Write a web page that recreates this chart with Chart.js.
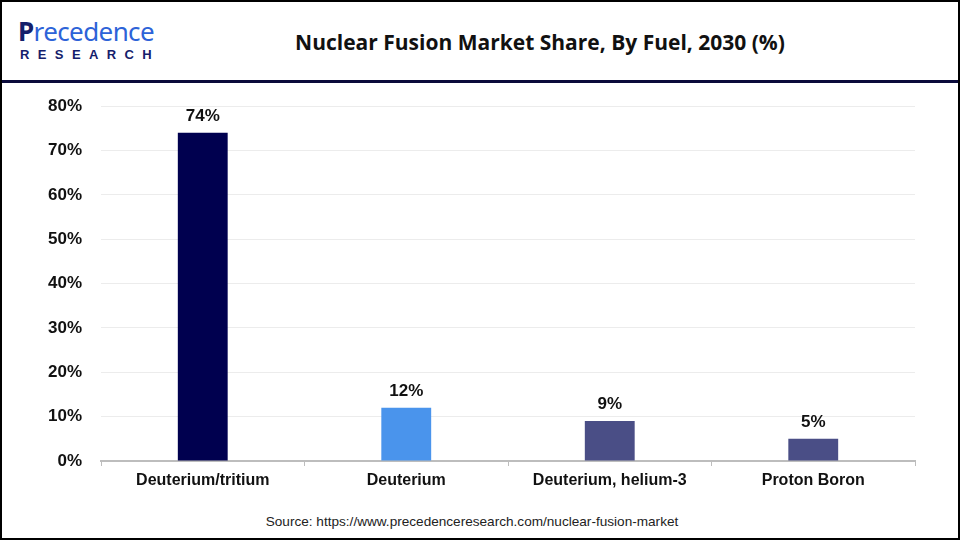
<!DOCTYPE html>
<html>
<head>
<meta charset="utf-8">
<script src="https://cdn.jsdelivr.net/npm/chart.js@4"></script>
<style>
  html, body { margin: 0; padding: 0; background: #fff; }
  #frame {
    position: relative; width: 956px; height: 536px;
    border: 2px solid #000; background: #fff; overflow: hidden;
    font-family: "Liberation Sans", Arial, sans-serif;
  }
  #header { position: absolute; left: 0; top: 0; width: 956px; height: 78px; border-bottom: 3px solid #0b0b3b; }
  #logo1 { position: absolute; left: 16px; top: 11px; font-family: "Noto Sans", sans-serif; font-size: 26px; letter-spacing: -0.6px; color: #2d63d8; }
  #logo1 b { color: #14206b; font-weight: 700; }
  #logo2 { position: absolute; left: 18px; top: 45px; font-size: 13px; font-weight: bold; letter-spacing: 8.4px; color: #14206b; }
  #title { position: absolute; left: 120px; width: 836px; top: 26px; text-align: center; font-family: "Open Sans", sans-serif; font-weight: 700; font-size: 21px; color: #111; }
  #wrap { position: absolute; left: -2px; top: 75px; width: 930px; height: 424px; }
  #source { position: absolute; left: 0; width: 940px; top: 512px; text-align: center; font-size: 13.6px; color: #222; }
</style>
</head>
<body>
<div id="frame">
  <div id="header">
    <div id="logo1"><b>P</b>recedence</div>
    <div id="logo2">RESEARCH</div>
    <div id="title">Nuclear Fusion Market Share, By Fuel, 2030 (%)</div>
  </div>
  <div id="wrap"><canvas id="chart"></canvas></div>
  <div id="source">Source: https://www.precedenceresearch.com/nuclear-fusion-market</div>
</div>
<script>
// chart data
const categories = ["Deuterium/tritium", "Deuterium", "Deuterium, helium-3", "Proton Boron"];
const shares = [74, 12, 9, 5];
const barColors = ["#00004f", "#4a94ec", "#4a4e86", "#4a4e86"];
const yTicks = [0, 10, 20, 30, 40, 50, 60, 70, 80];

// value labels above bars
const valueLabels = {
  id: "valueLabels",
  afterDatasetsDraw(chart) {
    const ctx = chart.ctx;
    const meta = chart.getDatasetMeta(0);
    ctx.save();
    ctx.font = "bold 17px 'Liberation Sans', Arial, sans-serif";
    ctx.fillStyle = "#111";
    ctx.textAlign = "center";
    ctx.textBaseline = "bottom";
    meta.data.forEach(function(bar, i){
      ctx.fillText(shares[i] + "%", bar.x, bar.y - 8);
    });
    ctx.restore();
  }
};

new Chart(document.getElementById("chart"), {
  type: "bar",
  data: {
    labels: categories,
    datasets: [{
      data: shares,
      backgroundColor: barColors,
      barPercentage: 0.245,
      categoryPercentage: 1
    }]
  },
  options: {
    responsive: true,
    maintainAspectRatio: false,
    animation: false,
    layout: { padding: { top: 7, right: 15, left: 0, bottom: 0 } },
    plugins: { legend: { display: false }, tooltip: { enabled: false } },
    scales: {
      x: {
        afterFit(scale){ scale.height = 40; },
        border: { display: true, color: "#bdbdbd", width: 2 },
        grid: { display: true, drawOnChartArea: false, color: "#bdbdbd", tickLength: 5, lineWidth: 1 },
        ticks: { color: "#111", padding: 5, font: { family: "'Liberation Sans', Arial, sans-serif", weight: "bold", size: 16 } }
      },
      y: {
        min: 0, max: 80,
        afterFit(scale){ scale.width = 101; },
        afterBuildTicks(scale){ scale.ticks = yTicks.map(v => ({ value: v })); },
        border: { display: false },
        grid: { color: "#ececec", lineWidth: 1, drawTicks: false },
        ticks: {
          color: "#111", padding: 19,
          font: { family: "'Liberation Sans', Arial, sans-serif", weight: "bold", size: 17 },
          callback: v => v + "%"
        }
      }
    }
  },
  plugins: [valueLabels]
});
</script>
</body>
</html>
